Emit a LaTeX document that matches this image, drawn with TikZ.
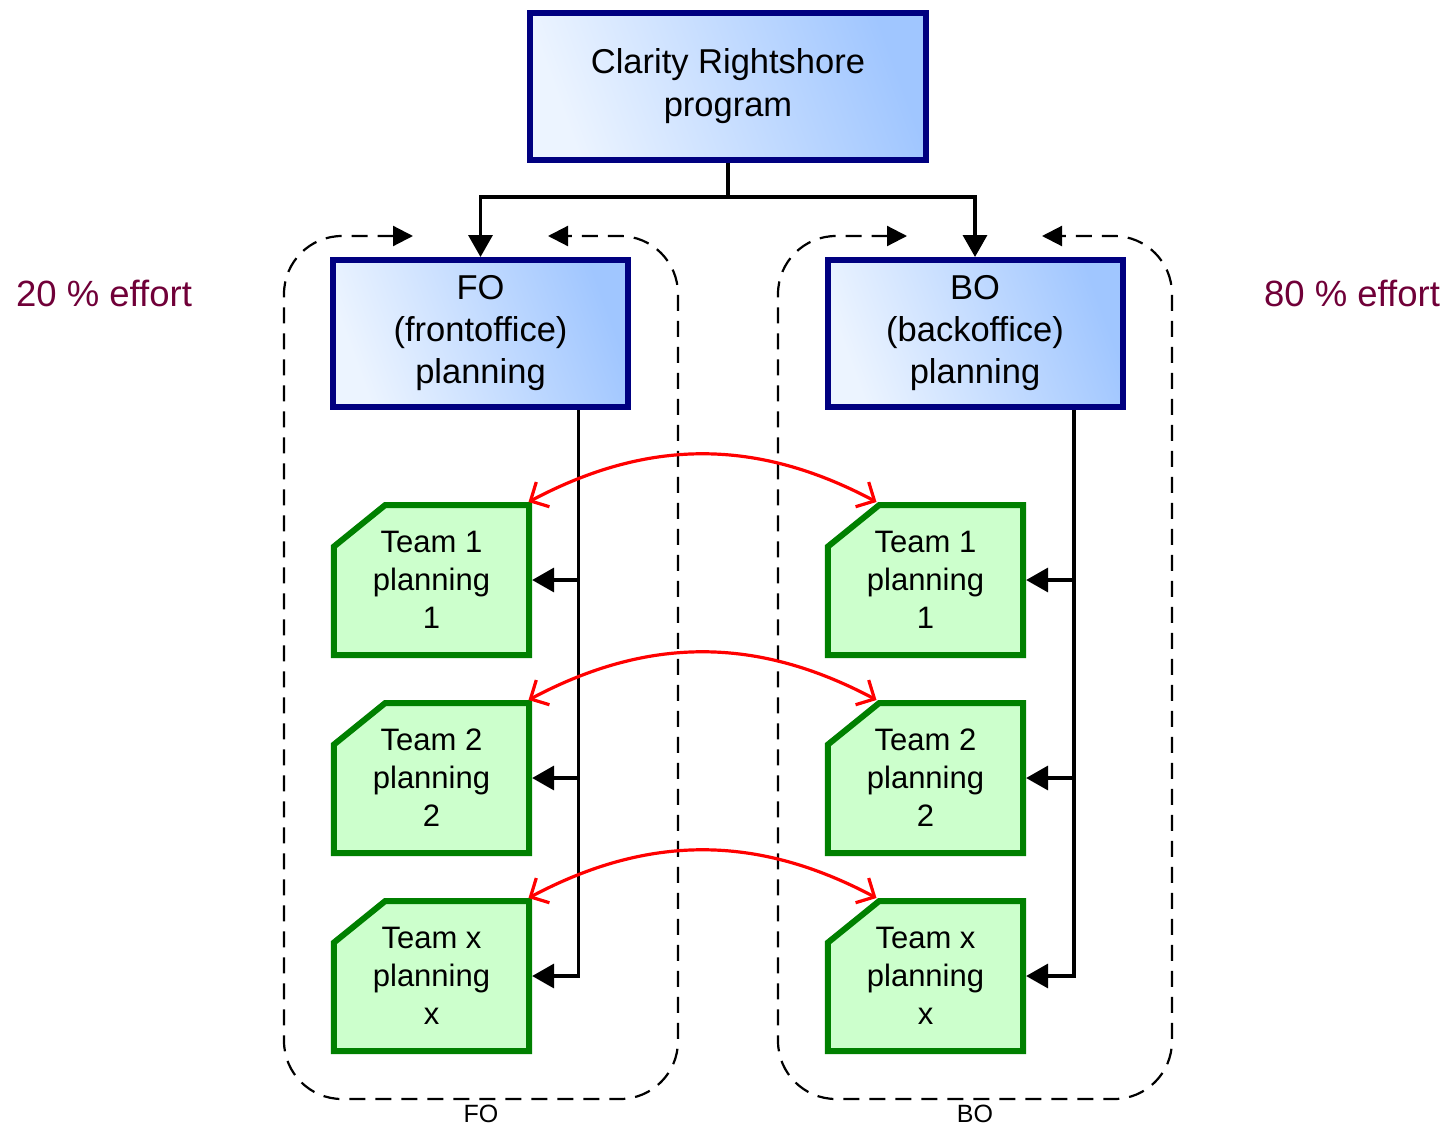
\documentclass[tikz,border=0pt]{standalone}
\usepackage{fontspec}
\setmainfont{Liberation Sans}
\usetikzlibrary{shapes.misc,arrows.meta,calc}
\definecolor{navyb}{RGB}{0,0,128}
\definecolor{boxblue}{RGB}{160,198,255}
\definecolor{boxlight}{RGB}{236,244,255}
\definecolor{tgreen}{RGB}{0,128,0}
\definecolor{tfill}{RGB}{204,255,204}
\definecolor{effortred}{RGB}{112,0,56}
\begin{document}
\begin{tikzpicture}[x=1pt,y=-1pt,
  bluebox/.style={draw=navyb, line width=6pt, left color=boxlight, right color=boxblue, shading angle=110,
    minimum width=396pt, minimum height=147pt, inner sep=0pt, align=center,
    font=\fontsize{34.5}{43}\selectfont},
  team/.style={chamfered rectangle, chamfered rectangle corners=north west,
    chamfered rectangle angle=51, chamfered rectangle xsep=39pt, chamfered rectangle ysep=10pt,
    draw=tgreen, fill=tfill, line width=6pt,
    minimum width=186pt, minimum height=150pt, inner sep=0pt, align=center,
    font=\fontsize{31}{38}\selectfont},
  conn/.style={line width=3.5pt, -{Triangle[length=22pt,width=24pt]}},
  plainline/.style={line width=3.5pt},
  redarr/.style={draw=red, line width=3.2pt,
    {Straight Barb[length=14pt,width=28pt]}-{Straight Barb[length=14pt,width=28pt]}},
  container/.style={line width=2.2pt, dash pattern=on 16pt off 10pt, rounded corners=58pt,
    {Triangle[length=20pt,width=20pt]}-{Triangle[length=20pt,width=20pt]}},
  effort/.style={text=effortred, font=\fontsize{36.5}{40}\selectfont, inner sep=0pt},
  grouplabel/.style={font=\fontsize{25}{30}\selectfont, inner sep=0pt}
]
\useasboundingbox (0,0) rectangle (1448,1127);

% containers
\draw[container] (413,236) -- (284,236) -- (284,1099) -- (678,1099) -- (678,236) -- (548,236);
\draw[container] (907,236) -- (778,236) -- (778,1099) -- (1172,1099) -- (1172,236) -- (1042,236);
\node[grouplabel] (folab) at (481,1114) {FO};
\node[grouplabel] (bolab) at (975,1114) {BO};

% effort labels
\node[effort] (e20) at (104,293) {20 \% effort};
\node[effort] (e80) at (1352,293) {80 \% effort};

% main boxes
\node[bluebox] (top) at (728,86.5) {Clarity Rightshore\\program};
\node[bluebox, minimum width=295pt, font=\fontsize{34.5}{42}\selectfont] (fo) at (480.5,333.5) {FO\\(frontoffice)\\planning};
\node[bluebox, minimum width=295pt, font=\fontsize{34.5}{42}\selectfont] (bo) at (975,333.5) {BO\\(backoffice)\\planning};

% team boxes
\node[team] (t1f) at (431.5,580) {Team 1\\planning\\1};
\node[team] (t2f) at (431.5,778) {Team 2\\planning\\2};
\node[team] (t3f) at (431.5,976) {Team x\\planning\\x};
\node[team] (t1b) at (925.5,580) {Team 1\\planning\\1};
\node[team] (t2b) at (925.5,778) {Team 2\\planning\\2};
\node[team] (t3b) at (925.5,976) {Team x\\planning\\x};

% top connectors
\coordinate (j) at (728,197);
\draw[plainline] (top.south) -- (j);
\draw[conn] (j) -| (fo.north);
\draw[conn] (j) -| (bo.north);

% FO tree
\coordinate (fv) at ([xshift=98pt]fo.south);
\draw[conn] (fv) |- (t3f.east);
\draw[conn] (t1f.east -| fv) -- (t1f.east);
\draw[conn] (t2f.east -| fv) -- (t2f.east);

% BO tree
\coordinate (bv) at ([xshift=99pt]bo.south);
\draw[conn] (bv) |- (t3b.east);
\draw[conn] (t1b.east -| bv) -- (t1b.east);
\draw[conn] (t2b.east -| bv) -- (t2b.east);

% red links
\draw[redarr] ([xshift=97pt]t1f.north) to[bend left=28] ([xshift=-49pt]t1b.north);
\draw[redarr] ([xshift=97pt]t2f.north) to[bend left=28] ([xshift=-49pt]t2b.north);
\draw[redarr] ([xshift=97pt]t3f.north) to[bend left=28] ([xshift=-49pt]t3b.north);
\end{tikzpicture}
\end{document}
